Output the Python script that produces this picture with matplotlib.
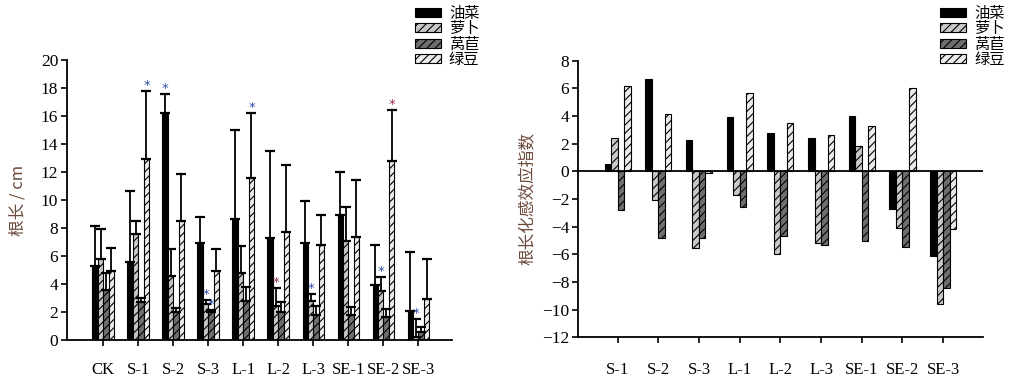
import numpy as np
import matplotlib
matplotlib.use('Agg')
import matplotlib.pyplot as plt

plt.rcParams['font.family'] = ['Liberation Serif', 'Noto Sans CJK SC', 'DejaVu Sans']
plt.rcParams['hatch.linewidth'] = 0.8
plt.rcParams['axes.unicode_minus'] = True

# 数据
species = ['油菜', '萝卜', '莴苣', '绿豆']
groups = ['CK', 'S-1', 'S-2', 'S-3', 'L-1', 'L-2', 'L-3', 'SE-1', 'SE-2', 'SE-3']
oil = [5.3, 5.55, 16.2, 6.95, 8.65, 7.3, 6.95, 8.9, 3.9, 2.1]
oil_sd = [2.85, 5.1, 1.4, 1.8, 6.35, 6.2, 3.0, 3.1, 2.85, 4.15]
radish = [5.8, 7.55, 4.6, 2.6, 4.8, 2.4, 2.8, 7.1, 3.5, 0.25]
radish_sd = [2.1, 0.95, 1.9, 0.25, 1.9, 1.3, 0.45, 2.4, 1.0, 1.25]
lettuce = [3.6, 2.7, 2.0, 2.0, 2.8, 2.0, 1.8, 1.8, 1.65, 0.6]
lettuce_sd = [1.2, 0.3, 0.3, 0.15, 0.95, 0.7, 0.6, 0.55, 0.55, 0.3]
mung = [4.95, 12.95, 8.5, 4.9, 11.55, 7.7, 6.8, 7.35, 12.75, 2.95]
mung_sd = [1.65, 4.8, 3.35, 1.6, 4.65, 4.8, 2.1, 4.05, 3.65, 2.8]
# 显著性标记 (组, 物种, 颜色)
stars = [(1, 3, 'b'), (2, 0, 'b'), (3, 1, 'b'), (3, 2, 'b'), (4, 3, 'b'),
         (5, 1, 'r'), (6, 1, 'b'), (8, 1, 'b'), (8, 3, 'r'), (9, 1, 'b')]

groups_ri = ['S-1', 'S-2', 'S-3', 'L-1', 'L-2', 'L-3', 'SE-1', 'SE-2', 'SE-3']
oil_ri = [0.55, 6.65, 2.3, 3.9, 2.75, 2.4, 4.0, -2.7, -6.1]
radish_ri = [2.4, -2.05, -5.55, -1.7, -5.95, -5.2, 1.85, -4.1, -9.6]
lettuce_ri = [-2.8, -4.85, -4.8, -2.6, -4.7, -5.3, -5.05, -5.45, -8.45]
mung_ri = [6.15, 4.15, -0.15, 5.65, 3.5, 2.65, 3.25, 6.0, -4.2]

faces = ['black', '#c8c8c8', '#6e6e6e', '#ececec']
hatches = [None, '////', '////', '////']
label_color = '#6b4a3a'
star_colors = {'b': '#2f4fa8', 'r': '#9a2a4a'}

fig = plt.figure(figsize=(10.16, 3.81), dpi=100)
ax1 = fig.add_axes([0.0656, 0.1076, 0.379, 0.735])
ax2 = fig.add_axes([0.5686, 0.1147, 0.399, 0.726])

w = 0.155
offs = [-0.235, -0.08, 0.075, 0.23]

# 左图 根长
x = np.arange(len(groups))
vals = [oil, radish, lettuce, mung]
sds = [oil_sd, radish_sd, lettuce_sd, mung_sd]
for i in range(4):
    ax1.bar(x + offs[i], vals[i], w, color=faces[i], edgecolor='black',
            linewidth=0.8, hatch=hatches[i], label=species[i], zorder=2)
    ax1.errorbar(x + offs[i], vals[i], yerr=[np.zeros(len(x)), sds[i]],
                 fmt='none', ecolor='black', elinewidth=1.3, capsize=3.5,
                 capthick=1.6, zorder=3)
for g, s, c in stars:
    top = vals[s][g] + sds[s][g]
    ax1.annotate('*', (g + offs[s], top), xytext=(0, 4), textcoords='offset points',
                 ha='center', va='center', fontsize=9.5, color=star_colors[c],
                 family='DejaVu Sans')

ax1.set_xlim(-1.05, 9.95)
ax1.set_ylim(0, 20)
ax1.set_yticks(np.arange(0, 21, 2))
ax1.set_xticks(x)
ax1.set_xticklabels(groups)
ax1.tick_params(axis='x', length=4, width=1.2, pad=12, labelsize=12)
ax1.tick_params(axis='y', length=4, width=1.2, pad=2, labelsize=12.5)
for sp in ['top', 'right']:
    ax1.spines[sp].set_visible(False)
for sp in ['left', 'bottom']:
    ax1.spines[sp].set_linewidth(1.3)
ax1.set_ylabel('根长 / cm', fontsize=12, color=label_color,
               family=['Noto Sans CJK SC', 'DejaVu Sans'], labelpad=10)

# 右图 化感效应指数
xr = np.arange(len(groups_ri))
vals_ri = [oil_ri, radish_ri, lettuce_ri, mung_ri]
wr = 0.16
offs_r = [-0.24, -0.08, 0.08, 0.24]
for i in range(4):
    ax2.bar(xr + offs_r[i], vals_ri[i], wr, color=faces[i], edgecolor='black',
            linewidth=0.8, hatch=hatches[i], label=species[i], zorder=2)
ax2.axhline(0, color='black', linewidth=1.3, zorder=3)
ax2.set_xlim(-0.98, 8.98)
ax2.set_ylim(-12, 8)
ax2.set_yticks(np.arange(-12, 9, 2))
ax2.set_xticks(xr)
ax2.set_xticklabels(groups_ri)
ax2.tick_params(axis='x', length=4, width=1.2, pad=14, labelsize=12)
ax2.tick_params(axis='y', length=4, width=1.2, pad=2, labelsize=12.5)
for sp in ['top', 'right']:
    ax2.spines[sp].set_visible(False)
for sp in ['left', 'bottom']:
    ax2.spines[sp].set_linewidth(1.3)
ax2.set_ylabel('根长化感效应指数', fontsize=12, color=label_color,
               family=['Noto Sans CJK SC', 'DejaVu Sans'], labelpad=4)

leg_kw = dict(loc='upper left', frameon=False, borderpad=0, borderaxespad=0,
              handlelength=1.7, handleheight=0.55, handletextpad=0.55,
              labelspacing=-0.1, bbox_transform=fig.transFigure,
              prop={'family': 'Noto Sans CJK SC', 'size': 11})
ax1.legend(bbox_to_anchor=(0.408, 0.988), **leg_kw)
ax2.legend(bbox_to_anchor=(0.925, 0.988), **leg_kw)

fig.savefig('out.png', dpi=100)
